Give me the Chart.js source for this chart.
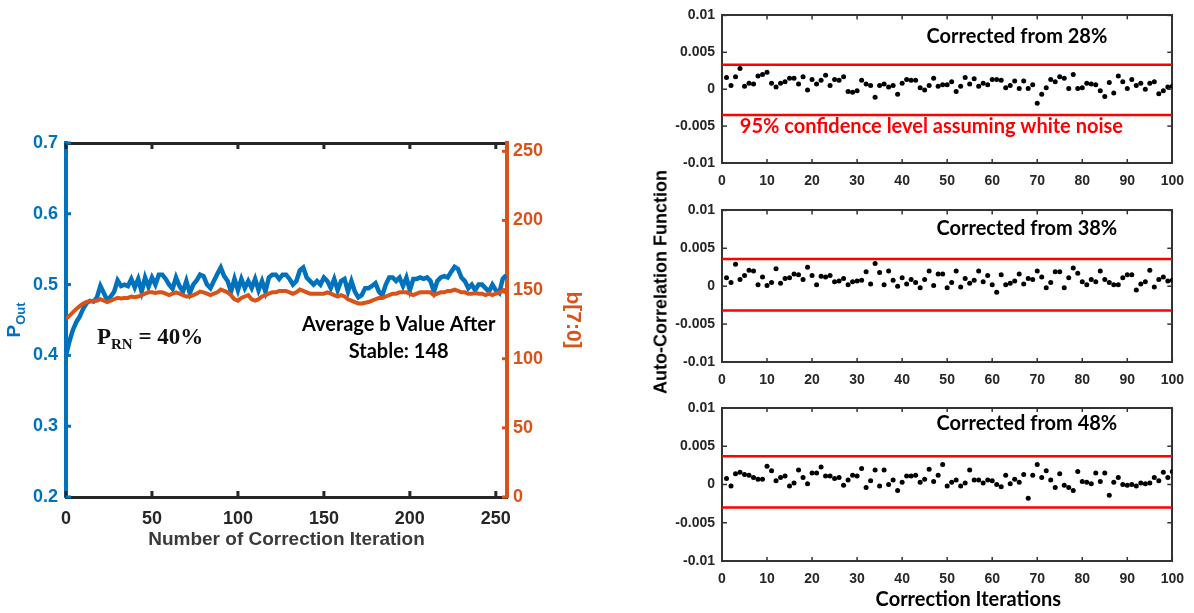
<!DOCTYPE html>
<html>
<head>
<meta charset="utf-8">
<script src="https://cdn.jsdelivr.net/npm/chart.js@4.4.1/dist/chart.umd.min.js"></script>
<style>
  body { margin: 0; background: #fff; }
  #wrap { position: relative; width: 1194px; height: 613px; overflow: hidden; }
  canvas { position: absolute; }
  #acfTitle {
    position: absolute; left: 661px; top: 282px;
    transform: translate(-50%, -50%) rotate(-90deg);
    font: bold 18px 'Liberation Sans', Arial, sans-serif;
    white-space: nowrap; color: #000;
  }
</style>
</head>
<body>
<div id="wrap">
  <canvas id="pChart" width="600" height="440" style="left:0;top:120px"></canvas>
  <canvas id="acf28" width="534" height="195" style="left:660px;top:0"></canvas>
  <canvas id="acf38" width="534" height="195" style="left:660px;top:195px"></canvas>
  <canvas id="acf48" width="534" height="223" style="left:660px;top:390px"></canvas>
  <div id="acfTitle">Auto-Correlation Function</div>
</div>
<script>
// ---- data ----
// left panel, sampled every 2 correction iterations (0..256)
const iterStep = 2;
const pOut = [
  0.400,0.420,0.436,0.447,0.455,0.466,0.474,0.477,0.476,0.482,
  0.498,0.488,0.478,0.483,0.490,0.506,0.498,0.500,0.498,0.508,
  0.496,0.508,0.490,0.510,0.497,0.510,0.500,0.514,0.514,0.508,
  0.500,0.494,0.510,0.498,0.490,0.505,0.488,0.500,0.506,0.514,
  0.512,0.500,0.495,0.505,0.515,0.524,0.512,0.505,0.490,0.508,
  0.492,0.508,0.495,0.505,0.495,0.508,0.492,0.505,0.490,0.510,
  0.514,0.514,0.508,0.514,0.514,0.508,0.500,0.505,0.520,0.524,
  0.510,0.505,0.500,0.505,0.500,0.510,0.505,0.495,0.508,0.492,
  0.505,0.508,0.490,0.505,0.490,0.482,0.485,0.495,0.495,0.498,
  0.502,0.490,0.485,0.500,0.510,0.510,0.505,0.510,0.498,0.510,
  0.492,0.508,0.508,0.510,0.508,0.510,0.505,0.490,0.505,0.510,
  0.512,0.510,0.518,0.525,0.522,0.510,0.505,0.495,0.500,0.492,
  0.500,0.500,0.495,0.490,0.500,0.492,0.488,0.508,0.513
];
const bValue = [
  129,131,133.5,136,138,140,141,141.5,142,142,
  143,142,141,142,143,144,143.5,144,144,145,
  144.5,145,146,147,148,148,147.5,148,148,147,
  146,147,148,147,146,145,145,146,147,148.5,
  148,147,146,147,148,150,149,148,146,143,
  142,144,145,146,143,142,143,145,146,147,
  148,148,149,149,149,148,147,148,150,149,
  148,147,147,147,147,147,148,147,146,145,
  146,145,143,142,141,140,140,140.5,141,142,
  143,144,144,145,146,147,147,148,148,148,
  147,146,147,148,148,148,148,146,147,148,
  148,149,149,150,149,148,148,147,147,147.5,
  147,147,146,147,146,147,148,149,148
];

// right panels: auto-correlation at lags 1..100
const acf28 = [
  0.0016,0.0005,0.0017,0.0028,0.0004,0.0008,0.0007,0.0018,0.0020,0.0023,
  0.0008,0.0003,0.0008,0.0010,0.0015,0.0015,0.0007,0.0017,-0.0001,0.0013,
  0.0007,0.0012,0.0019,0.0005,0.0013,0.0012,0.0017,-0.0003,-0.0004,-0.0002,
  0.0012,0.0007,0.0005,-0.0011,0.0005,0.0007,0.0003,0.0005,-0.0007,0.0008,
  0.0013,0.0012,0.0012,0.0002,-0.0001,0.0005,0.0015,0.0004,0.0006,0.0006,
  0.0010,-0.0003,0.0004,0.0016,0.0007,0.0014,0.0004,0.0008,0.0006,0.0013,
  0.0013,0.0012,0.0002,0.0005,0.0011,0.0001,0.0011,0.0001,0.0006,-0.0019,
  -0.0007,0.0002,0.0013,0.0010,0.0017,0.0015,0.0001,0.0020,0.0001,0.0002,
  0.0008,0.0007,0.0006,-0.0002,-0.0010,0.0009,-0.0005,0.0018,0.0010,0.0001,
  0.0013,0.0005,0.0008,0.0000,0.0008,0.0010,-0.0006,-0.0002,0.0003,0.0004
];
const acf38 = [
  0.0011,0.0005,0.0029,0.0009,0.0014,0.0021,0.0020,0.0002,0.0012,0.0001,
  0.0005,0.0023,0.0004,0.0010,0.0011,0.0016,0.0015,0.0009,0.0025,0.0014,
  0.0002,0.0013,0.0012,0.0014,0.0006,0.0007,0.0010,0.0002,0.0006,0.0007,
  0.0008,0.0019,0.0003,0.0030,0.0018,0.0002,0.0020,0.0008,0.0000,0.0011,
  0.0003,0.0009,0.0005,-0.0002,0.0009,0.0020,0.0001,0.0016,0.0016,-0.0002,
  0.0005,0.0020,-0.0001,0.0010,0.0004,0.0008,0.0020,0.0006,0.0014,0.0002,
  -0.0008,0.0015,0.0002,0.0004,0.0007,0.0016,0.0003,0.0010,0.0009,0.0020,
  0.0012,-0.0002,0.0005,0.0019,0.0019,-0.0002,0.0011,0.0024,0.0017,0.0006,
  0.0002,0.0009,0.0006,0.0020,0.0009,0.0005,0.0002,0.0002,0.0011,0.0015,
  0.0015,-0.0005,0.0003,0.0006,0.0021,-0.0001,0.0009,0.0012,0.0007,0.0008
];
const acf48 = [
  0.0008,-0.0002,0.0014,0.0016,0.0013,0.0012,0.0009,0.0007,0.0007,0.0024,
  0.0018,0.0005,0.0009,0.0011,-0.0002,0.0002,0.0019,0.0009,0.0001,0.0015,
  0.0015,0.0023,0.0011,0.0011,0.0008,0.0009,-0.0001,0.0006,0.0012,0.0011,
  0.0021,-0.0004,0.0005,0.0019,-0.0002,0.0019,0.0000,0.0006,-0.0008,0.0003,
  0.0011,0.0011,0.0012,0.0003,0.0007,0.0020,0.0004,0.0012,0.0026,-0.0002,
  0.0003,0.0006,-0.0002,0.0002,0.0019,0.0006,0.0006,0.0002,0.0006,0.0005,
  0.0000,-0.0003,0.0012,0.0001,0.0007,0.0003,0.0013,-0.0018,0.0012,0.0026,
  0.0009,0.0018,0.0006,-0.0004,0.0014,-0.0001,-0.0004,-0.0008,0.0017,0.0004,
  0.0003,0.0001,0.0015,0.0004,0.0015,-0.0014,0.0003,0.0009,0.0000,-0.0001,
  0.0000,-0.0002,0.0002,0.0001,0.0002,0.0009,0.0005,0.0016,0.0009,0.0017
];
// 95% confidence bounds (upper, lower) per panel
const conf28 = [0.0033, -0.0035];
const conf38 = [0.0036, -0.0032];
const conf48 = [0.0037, -0.0030];

const BLUE = '#0072BD';
const ORANGE = '#D95319';
const AXIS = '#262626';
const SANS = "'Liberation Sans', Arial, sans-serif";
const CAL = "Lato, 'Open Sans', sans-serif";

Chart.defaults.font.family = SANS;
Chart.defaults.font.weight = 'bold';
Chart.defaults.animation = false;

// inward tick marks, like a MATLAB box axis
const innerTicks = {
  id: 'innerTicks',
  afterDatasetsDraw(chart, args, opts) {
    const ctx = chart.ctx;
    const area = chart.chartArea;
    (opts.list || []).forEach(cfg => {
      const s = chart.scales[cfg.scale];
      ctx.save();
      ctx.strokeStyle = cfg.color;
      ctx.lineWidth = cfg.width;
      s.ticks.forEach(t => {
        const p = s.getPixelForValue(t.value);
        ctx.beginPath();
        if (s.position === 'bottom') { ctx.moveTo(p, area.bottom); ctx.lineTo(p, area.bottom - cfg.len); }
        else if (s.position === 'top') { ctx.moveTo(p, area.top); ctx.lineTo(p, area.top + cfg.len); }
        else if (s.position === 'left') { ctx.moveTo(area.left, p); ctx.lineTo(area.left + cfg.len, p); }
        else { ctx.moveTo(area.right, p); ctx.lineTo(area.right - cfg.len, p); }
        ctx.stroke();
      });
      ctx.restore();
    });
  }
};

// text notes placed in data units, made of styled parts
const notes = {
  id: 'notes',
  afterDraw(chart, args, opts) {
    const ctx = chart.ctx;
    (opts.list || []).forEach(n => {
      const x = chart.scales[n.xAxis].getPixelForValue(n.x);
      const y = chart.scales[n.yAxis].getPixelForValue(n.y);
      ctx.save();
      ctx.translate(x, y);
      if (n.rotate) ctx.rotate(n.rotate);
      ctx.textBaseline = 'alphabetic';
      ctx.textAlign = 'left';
      let total = 0;
      n.parts.forEach(p => { ctx.font = p.font; total += ctx.measureText(p.text).width; });
      let cx = n.align === 'left' ? 0 : -total / 2;
      n.parts.forEach(p => {
        ctx.font = p.font;
        ctx.fillStyle = p.color;
        ctx.fillText(p.text, cx, p.dy);
        cx += ctx.measureText(p.text).width;
      });
      ctx.restore();
    });
  }
};

// ---- left panel ----
const iterX = pOut.map((_, i) => i * iterStep);

new Chart(document.getElementById('pChart'), {
  type: 'line',
  data: {
    datasets: [
      {
        label: 'P_Out',
        data: iterX.map((x, i) => ({ x: x, y: pOut[i] })),
        xAxisID: 'x', yAxisID: 'y',
        borderColor: BLUE, borderWidth: 4.5, pointRadius: 0, tension: 0, order: 2
      },
      {
        label: 'b[7:0]',
        data: iterX.map((x, i) => ({ x: x, y: bValue[i] })),
        xAxisID: 'x', yAxisID: 'y2',
        borderColor: ORANGE, borderWidth: 4, pointRadius: 0, tension: 0, order: 1
      }
    ]
  },
  options: {
    responsive: false,
    layout: { padding: { top: 23, left: 0, right: 0, bottom: 0 } },
    plugins: {
      legend: { display: false },
      tooltip: { enabled: false },
      innerTicks: {
        list: [
          { scale: 'x', color: AXIS, width: 3, len: 6 },
          { scale: 'xTop', color: AXIS, width: 3, len: 6 },
          { scale: 'y', color: BLUE, width: 3, len: 5 },
          { scale: 'y2', color: ORANGE, width: 3, len: 5 }
        ]
      },
      notes: {
        list: [
          { xAxis: 'x', yAxis: 'y', x: -30.5, y: 0.45, rotate: -Math.PI / 2, align: 'center',
            parts: [
              { text: 'P', font: 'bold 19px ' + SANS, color: BLUE, dy: 6 },
              { text: 'Out', font: 'bold 13px ' + SANS, color: BLUE, dy: 11 }
            ] },
          { xAxis: 'x', yAxis: 'y', x: 18, y: 0.416, align: 'left',
            parts: [
              { text: 'P', font: "bold 23px 'Liberation Serif', serif", color: '#111', dy: 0 },
              { text: 'RN', font: "bold 15px 'Liberation Serif', serif", color: '#111', dy: 5 },
              { text: ' = 40%', font: "bold 23px 'Liberation Serif', serif", color: '#111', dy: 0 }
            ] },
          { xAxis: 'x', yAxis: 'y', x: 193.5, y: 0.434, align: 'center',
            parts: [{ text: 'Average b Value After', font: 'bold 20px ' + CAL, color: '#000', dy: 0 }] },
          { xAxis: 'x', yAxis: 'y', x: 193.5, y: 0.396, align: 'center',
            parts: [{ text: 'Stable: 148', font: 'bold 20px ' + CAL, color: '#000', dy: 0 }] }
        ]
      }
    },
    scales: {
      x: {
        type: 'linear', position: 'bottom', min: 0, max: 256.5,
        ticks: { stepSize: 50, includeBounds: false, padding: 11, color: AXIS, font: { size: 18 } },
        grid: { drawOnChartArea: false, drawTicks: false },
        border: { color: AXIS, width: 3 },
        title: {
          display: true, text: 'Number of Correction Iteration', color: '#3a3a3a',
          font: { size: 19 }, padding: { top: 0, bottom: 9 }
        },
        afterFit: s => { s.height = 63; }
      },
      xTop: {
        type: 'linear', position: 'top', min: 0, max: 256.5,
        ticks: { display: false, stepSize: 50, includeBounds: false },
        grid: { drawOnChartArea: false, drawTicks: false },
        border: { color: AXIS, width: 3 },
        afterFit: s => { s.height = 0; }
      },
      y: {
        type: 'linear', position: 'left', min: 0.2, max: 0.7,
        ticks: { stepSize: 0.1, padding: 8, color: BLUE, font: { size: 18 }, callback: v => v.toFixed(1) },
        grid: { drawOnChartArea: false, drawTicks: false },
        border: { color: BLUE, width: 4 },
        afterFit: s => { s.width = 66; }
      },
      y2: {
        type: 'linear', position: 'right', min: 0, max: 256,
        ticks: { stepSize: 50, includeBounds: false, padding: 6, color: ORANGE, font: { size: 18 } },
        grid: { drawOnChartArea: false, drawTicks: false },
        border: { color: ORANGE, width: 4 },
        title: { display: true, text: 'b[7:0]', color: ORANGE, font: { size: 21 }, padding: { top: 15, bottom: 0 } },
        afterFit: s => { s.width = 93; }
      }
    }
  },
  plugins: [innerTicks, notes]
});

// ---- right panels ----
const lags = acf28.map((_, i) => i + 1);
const acfLabel = v => String(+v.toFixed(3));

function acfChart(id, values, conf, padTop, xHeight, extraNotes) {
  const boundLine = yv => ({
    type: 'line',
    data: [{ x: 0, y: yv }, { x: 100, y: yv }],
    borderColor: '#FF0000', borderWidth: 2.5, pointRadius: 0, showLine: true, order: 2
  });
  return new Chart(document.getElementById(id), {
    type: 'scatter',
    data: {
      datasets: [
        {
          label: 'ACF',
          data: values.map((v, i) => ({ x: lags[i], y: v })),
          backgroundColor: '#000', borderWidth: 0, pointRadius: 2.5, order: 1
        },
        boundLine(conf[0]),
        boundLine(conf[1])
      ]
    },
    options: {
      responsive: false,
      layout: { padding: { top: padTop, left: 0, right: 17, bottom: 0 } },
      plugins: {
        legend: { display: false },
        tooltip: { enabled: false },
        innerTicks: {
          list: [
            { scale: 'x', color: '#333', width: 1.5, len: 4 },
            { scale: 'xTop', color: '#333', width: 1.5, len: 4 },
            { scale: 'y', color: '#333', width: 1.5, len: 5 },
            { scale: 'y2', color: '#333', width: 1.5, len: 5 }
          ]
        },
        notes: { list: extraNotes }
      },
      scales: {
        x: {
          type: 'linear', position: 'bottom', min: 0, max: 100,
          ticks: { stepSize: 10, padding: 10, color: AXIS, font: { size: 14 } },
          grid: { drawOnChartArea: false, drawTicks: false },
          border: { color: '#333', width: 2 },
          afterFit: s => { s.height = xHeight; }
        },
        xTop: {
          type: 'linear', position: 'top', min: 0, max: 100,
          ticks: { display: false, stepSize: 10 },
          grid: { drawOnChartArea: false, drawTicks: false },
          border: { color: '#333', width: 2 },
          afterFit: s => { s.height = 0; }
        },
        y: {
          type: 'linear', position: 'left', min: -0.01, max: 0.01,
          ticks: { stepSize: 0.005, padding: 7, color: AXIS, font: { size: 14 }, callback: acfLabel },
          grid: { drawOnChartArea: false, drawTicks: false },
          border: { color: '#333', width: 2 },
          afterFit: s => { s.width = 62; }
        },
        y2: {
          type: 'linear', position: 'right', min: -0.01, max: 0.01,
          ticks: { display: false, stepSize: 0.005 },
          grid: { drawOnChartArea: false, drawTicks: false },
          border: { color: '#333', width: 2 },
          afterFit: s => { s.width = 0; }
        }
      }
    },
    plugins: [innerTicks, notes]
  });
}

const calNote = (text, x, y, color) => ({
  xAxis: 'x', yAxis: 'y', x: x, y: y, align: 'center',
  parts: [{ text: text, font: 'bold 20px ' + CAL, color: color, dy: 0 }]
});

acfChart('acf28', acf28, conf28, 10, 32, [
  calNote('Corrected from 28%', 65.5, 0.0062, '#000'),
  calNote('95% confidence level assuming white noise', 46.5, -0.0059, '#FF0000')
]);
acfChart('acf38', acf38, conf38, 15, 28, [
  calNote('Corrected from 38%', 67.7, 0.0067, '#000')
]);
acfChart('acf48', acf48, conf48, 18, 52, [
  calNote('Corrected from 48%', 67.7, 0.0071, '#000'),
  calNote('Correction Iterations', 54.7, -0.0159, '#000')
]);
</script>
</body>
</html>
